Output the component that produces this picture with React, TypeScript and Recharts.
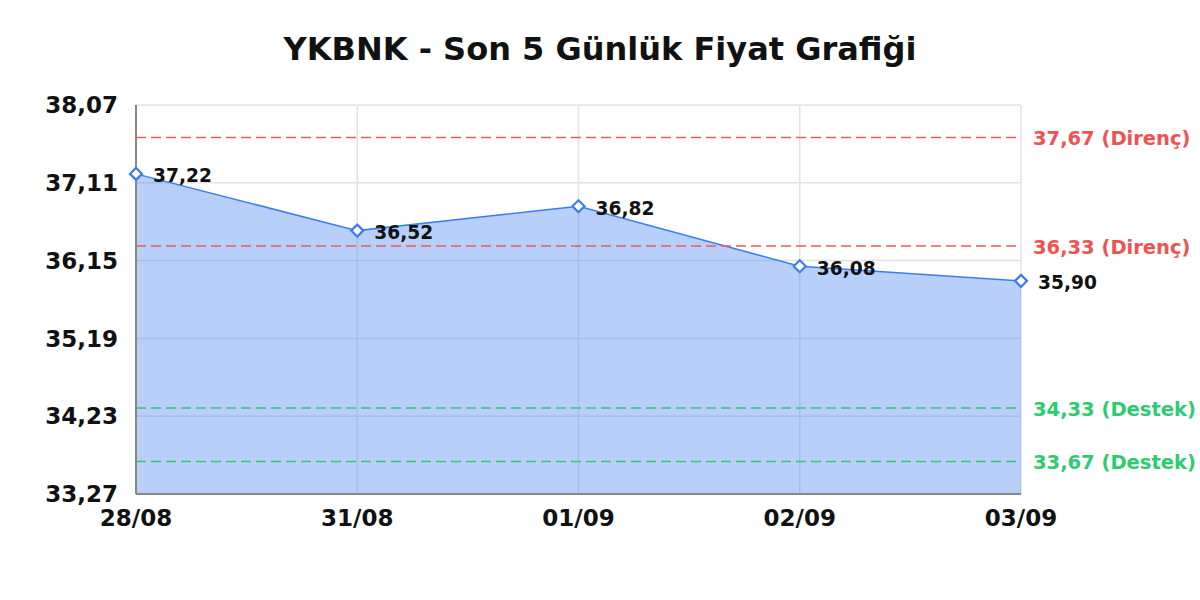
import React from "react";
import {
  AreaChart,
  Area,
  XAxis,
  YAxis,
  CartesianGrid,
  ReferenceLine,
  LabelList,
} from "recharts";

const dates = ["28/08", "31/08", "01/09", "02/09", "03/09"];
const prices = [37.22, 36.52, 36.82, 36.08, 35.9];
const yTicks = [33.27, 34.23, 35.19, 36.15, 37.11, 38.07];
const resistanceLevels = [37.67, 36.33];
const supportLevels = [34.33, 33.67];
const titleText = "YKBNK - Son 5 Günlük Fiyat Grafiği";

const data = dates.map((d, i) => ({ date: d, price: prices[i] }));

const FONT = "'DejaVu Sans', Verdana, sans-serif";
const fmt = (v: number) => v.toFixed(2).replace(".", ",");

const Diamond = (props: any) => {
  const { cx, cy } = props;
  if (cx == null || cy == null) return null;
  const r = 6;
  return (
    <path
      d={`M${cx},${cy - r} L${cx + r},${cy} L${cx},${cy + r} L${cx - r},${cy} Z`}
      fill="#ffffff"
      stroke="#3b7ef2"
      strokeWidth={2.2}
    />
  );
};

const DataLabel = (props: any) => {
  const { x, y, value } = props;
  return (
    <text
      x={x + 17}
      y={y + 2}
      dominantBaseline="central"
      fontFamily={FONT}
      fontWeight="bold"
      fontSize={18.6}
      fill="#111111"
    >
      {fmt(value)}
    </text>
  );
};

const refLabel = (text: string, color: string) => (props: any) => {
  const vb = props.viewBox || {};
  return (
    <text
      x={vb.x + vb.width + 12}
      y={vb.y + 1}
      dominantBaseline="central"
      fontFamily={FONT}
      fontWeight="bold"
      fontSize={19.5}
      fill={color}
    >
      {text}
    </text>
  );
};

export default function App() {
  return (
    <div
      style={{
        position: "absolute",
        left: 0,
        top: 0,
        width: 1200,
        height: 600,
        background: "#ffffff",
      }}
    >
      <div
        style={{
          position: "absolute",
          left: 0,
          top: 33,
          width: 1200,
          textAlign: "center",
          fontFamily: FONT,
          fontWeight: "bold",
          fontSize: 32,
          lineHeight: "32px",
          color: "#111111",
        }}
      >
        {titleText}
      </div>
      <AreaChart
        width={1200}
        height={600}
        data={data}
        margin={{ top: 105, right: 179, left: 0, bottom: 66 }}
      >
        <CartesianGrid stroke="#e3e3e3" strokeWidth={1.5} />
        <XAxis
          dataKey="date"
          height={40}
          tickLine={false}
          tickSize={0}
          tickMargin={16}
          axisLine={{ stroke: "#888888", strokeWidth: 2 }}
          tick={{ fontFamily: FONT, fontWeight: "bold", fontSize: 23, fill: "#111111" }}
          interval={0}
        />
        <YAxis
          width={136}
          domain={[33.27, 38.07]}
          ticks={yTicks}
          tickFormatter={fmt}
          tickLine={false}
          tickSize={0}
          tickMargin={18}
          axisLine={{ stroke: "#888888", strokeWidth: 2 }}
          tick={{ fontFamily: FONT, fontWeight: "bold", fontSize: 23, fill: "#111111" }}
          allowDataOverflow
        />
        <Area
          type="linear"
          dataKey="price"
          stroke="#3b7ef2"
          strokeWidth={1.5}
          fill="#4a86f0"
          fillOpacity={0.4}
          dot={<Diamond />}
          activeDot={false}
          isAnimationActive={false}
        >
          <LabelList dataKey="price" content={<DataLabel />} />
        </Area>
        {resistanceLevels.map((v) => (
          <ReferenceLine
            key={"r" + v}
            y={v}
            stroke="#f05a5a"
            strokeWidth={1.5}
            strokeDasharray="10 5"
            label={refLabel(`${fmt(v)} (Direnç)`, "#f05252")}
          />
        ))}
        {supportLevels.map((v) => (
          <ReferenceLine
            key={"s" + v}
            y={v}
            stroke="#2ecc71"
            strokeWidth={1.5}
            strokeDasharray="10 5"
            label={refLabel(`${fmt(v)} (Destek)`, "#2ecc71")}
          />
        ))}
      </AreaChart>
    </div>
  );
}
